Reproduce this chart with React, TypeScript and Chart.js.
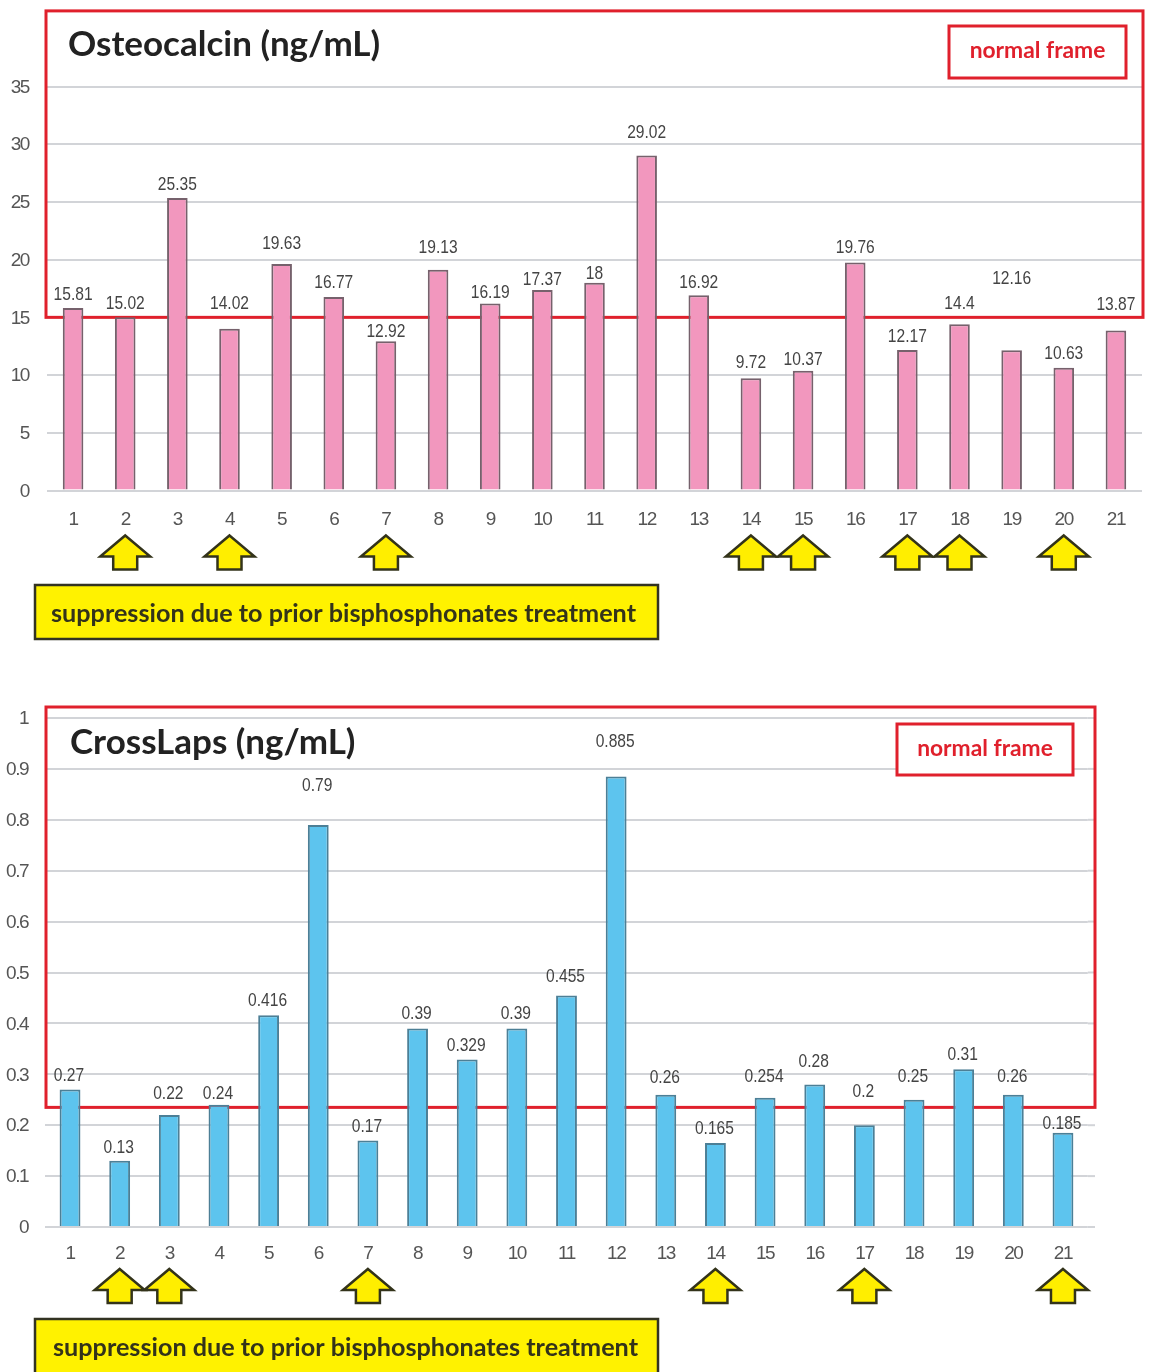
import React, { useEffect, useRef } from "react";
import { Chart, registerables } from "chart.js";

Chart.register(...registerables);

// Subject numbers along both x axes
const subjects = ["1","2","3","4","5","6","7","8","9","10","11","12","13","14","15","16","17","18","19","20","21"];

// Osteocalcin (ng/mL)
const osteocalcin = [15.81,15.02,25.35,14.02,19.63,16.77,12.92,19.13,16.19,17.37,18,29.02,16.92,9.72,10.37,19.76,12.17,14.4,12.16,10.63,13.87];
const osteocalcinNormal = [15, 41.55];
const osteocalcinArrows = [2,4,7,14,15,17,18,20];
// Distance from the bar top to the centre of its value label
const osteocalcinLift = [14,14,14,26,21,15,11,23,12,11,10,24,13,17,12,16,14,22,72,15,27];

// CrossLaps (ng/mL)
const crossLaps = [0.27,0.13,0.22,0.24,0.416,0.79,0.17,0.39,0.329,0.39,0.455,0.885,0.26,0.165,0.254,0.28,0.2,0.25,0.31,0.26,0.185];
const crossLapsNormal = [0.235, 1.0216];
const crossLapsArrows = [2,3,7,14,17,21];
const crossLapsLift = [15,14,22,12,15,40,15,16,15,16,20,36,18,15,22,24,34,24,15,19,10];

const DIGITS = '"Liberation Sans", Arimo, sans-serif';
const SANS = 'Lato, "Open Sans", sans-serif';
const RED = "#e0202c";
const NOTE = "suppression due to prior bisphosphonates treatment";

type Panel = {
  top: number; height: number; plotTop: number; plotBottom: number; plotLeft: number; plotRight: number;
  gridRight: number; frameRight: number;
  title: string; titleX: number; titleY: number;
  values: number[]; lifts: number[]; arrows: number[]; normal: number[];
  max: number; step: number; fill: string; edge: string; barShare: number;
  keyBox: number[]; noteBox: number[]; noteX: number; noteMid: number; arrowTip: number; labelNudge: number;
  tickPad: number; sidePad: number;
};

const panels: Panel[] = [
  {
    top: 0, height: 660, plotTop: 86.5, plotBottom: 490.5, plotLeft: 47, plotRight: 1142, gridRight: 1142, frameRight: 1143,
    title: "Osteocalcin (ng/mL)", titleX: 68, titleY: 45,
    values: osteocalcin, lifts: osteocalcinLift, arrows: osteocalcinArrows, normal: osteocalcinNormal,
    max: 35, step: 5, fill: "#f297be", edge: "#76616c", barShare: 0.395,
    keyBox: [949, 26, 177, 52], noteBox: [35, 585, 623, 54], noteX: 51, noteMid: 28.5, arrowTip: 45, labelNudge: 0,
    tickPad: 18, sidePad: 18,
  },
  {
    top: 660, height: 712, plotTop: 58, plotBottom: 567, plotLeft: 45.2, plotRight: 1087.8, gridRight: 1095, frameRight: 1095,
    title: "CrossLaps (ng/mL)", titleX: 70, titleY: 83,
    values: crossLaps, lifts: crossLapsLift, arrows: crossLapsArrows, normal: crossLapsNormal,
    max: 1, step: 0.1, fill: "#5dc4ee", edge: "#4c7f96", barShare: 0.42,
    keyBox: [897, 64, 176, 51], noteBox: [35, 659, 623, 60], noteX: 53, noteMid: 29, arrowTip: 42, labelNudge: -1,
    tickPad: 15, sidePad: 17,
  },
];

function drawArrow(ctx: CanvasRenderingContext2D, x: number, tip: number) {
  ctx.beginPath();
  ctx.moveTo(x, tip);
  ctx.lineTo(x + 25, tip + 21);
  ctx.lineTo(x + 12, tip + 21);
  ctx.lineTo(x + 12, tip + 34);
  ctx.lineTo(x - 12, tip + 34);
  ctx.lineTo(x - 12, tip + 21);
  ctx.lineTo(x - 25, tip + 21);
  ctx.closePath();
  ctx.fillStyle = "#ffee00";
  ctx.fill();
  ctx.lineWidth = 2.5;
  ctx.lineJoin = "miter";
  ctx.strokeStyle = "#33331a";
  ctx.stroke();
}

function makeChart(canvas: HTMLCanvasElement, p: Panel) {
  const annotations = {
    id: "annotations",
    beforeDraw(chart: any) {
      // Tightens the axis numerals, which are set in a condensed look
      chart.ctx.letterSpacing = "-1.4px";
    },
    beforeDatasetsDraw(chart: any) {
      const { ctx, scales, chartArea } = chart;
      ctx.save();
      // Grid lines run on past the last category
      if (p.gridRight > chartArea.right) {
        ctx.strokeStyle = "#d2d4d8";
        ctx.lineWidth = 2;
        scales.y.ticks.forEach((_: any, i: number) => {
          const y = scales.y.getPixelForTick(i);
          ctx.beginPath();
          ctx.moveTo(chartArea.right, y);
          ctx.lineTo(p.gridRight, y);
          ctx.stroke();
        });
      }
      // Normal-range frame sits above the grid but behind the bars
      const yLow = scales.y.getPixelForValue(p.normal[0]);
      const yHigh = scales.y.getPixelForValue(p.normal[1]);
      ctx.strokeStyle = RED;
      ctx.lineWidth = 3;
      ctx.strokeRect(46, yHigh, p.frameRight - 46, yLow - yHigh);
      ctx.restore();
    },
    afterDatasetsDraw(chart: any) {
      const { ctx, scales } = chart;
      ctx.save();
      ctx.letterSpacing = "0px";
      ctx.font = `19px ${DIGITS}`;
      ctx.fillStyle = "#444444";
      ctx.textAlign = "center";
      ctx.textBaseline = "middle";
      p.values.forEach((v, i) => {
        const x = scales.x.getPixelForValue(i) + p.labelNudge;
        const y = scales.y.getPixelForValue(v) - p.lifts[i] + 1;
        // Value labels are squeezed horizontally to a condensed width
        ctx.save();
        ctx.translate(x, y);
        ctx.scale(0.82, 1);
        ctx.fillText(String(v), 0, 0);
        ctx.restore();
      });
      ctx.restore();
    },
    afterDraw(chart: any) {
      const { ctx, scales } = chart;
      ctx.save();
      ctx.letterSpacing = "0px";
      ctx.textBaseline = "middle";

      ctx.font = `700 35px ${SANS}`;
      ctx.fillStyle = "#222222";
      ctx.textAlign = "left";
      ctx.fillText(p.title, p.titleX, p.titleY);

      const [kx, ky, kw, kh] = p.keyBox;
      ctx.fillStyle = "#ffffff";
      ctx.fillRect(kx, ky, kw, kh);
      ctx.strokeStyle = RED;
      ctx.lineWidth = 3;
      ctx.strokeRect(kx, ky, kw, kh);
      ctx.font = `700 22.8px ${SANS}`;
      ctx.fillStyle = RED;
      ctx.textAlign = "center";
      ctx.fillText("normal frame", kx + kw / 2, ky + kh / 2 - 1);

      p.arrows.forEach((n) => {
        drawArrow(ctx, scales.x.getPixelForValue(n - 1), p.plotBottom + p.arrowTip);
      });

      const [nx, ny, nw, nh] = p.noteBox;
      ctx.fillStyle = "#fff200";
      ctx.fillRect(nx, ny, nw, nh);
      ctx.strokeStyle = "#333322";
      ctx.lineWidth = 2.5;
      ctx.strokeRect(nx, ny, nw, nh);
      ctx.font = `700 25.2px ${SANS}`;
      ctx.fillStyle = "#33331a";
      ctx.textAlign = "left";
      ctx.fillText(NOTE, p.noteX, ny + p.noteMid);
      ctx.restore();
    },
  };

  return new Chart(canvas, {
    type: "bar",
    data: {
      labels: subjects,
      datasets: [{
        data: p.values,
        backgroundColor: p.fill,
        borderColor: p.edge,
        borderWidth: 2,
        borderSkipped: "bottom",
        categoryPercentage: 1,
        barPercentage: p.barShare,
      }],
    },
    options: {
      animation: false,
      responsive: false,
      events: [],
      layout: { padding: { top: p.plotTop, right: 1149 - p.plotRight, left: 0, bottom: 0 } },
      plugins: { legend: { display: false }, tooltip: { enabled: false }, title: { display: false } },
      scales: {
        x: {
          grid: { display: false, drawTicks: false },
          border: { display: false },
          ticks: { color: "#555555", padding: p.tickPad, font: { family: DIGITS, size: 19 }, maxRotation: 0, autoSkip: false },
          afterFit(scale: any) { scale.height = p.height - p.plotBottom; },
        },
        y: {
          min: 0,
          max: p.max,
          grid: { color: "#d2d4d8", lineWidth: 2, drawTicks: false },
          border: { display: false },
          ticks: {
            stepSize: p.step,
            color: "#555555",
            padding: p.sidePad,
            labelOffset: 1,
            font: { family: DIGITS, size: 19 },
            callback: (v: any) => String(Math.round(Number(v) * 10) / 10),
          },
          afterFit(scale: any) { scale.width = p.plotLeft; },
        },
      },
    },
    plugins: [annotations],
  } as any);
}

function PanelChart({ panel }: { panel: Panel }) {
  const ref = useRef<HTMLCanvasElement | null>(null);
  useEffect(() => {
    const chart = makeChart(ref.current!, panel);
    return () => chart.destroy();
  }, [panel]);
  return (
    <canvas
      ref={ref}
      width={1149}
      height={panel.height}
      style={{ position: "absolute", left: 0, top: panel.top, width: 1149, height: panel.height }}
    />
  );
}

export default function App() {
  return (
    <div style={{ position: "absolute", left: 0, top: 0, width: 1149, height: 1372, overflow: "hidden", background: "#fff" }}>
      {panels.map((p) => <PanelChart key={p.title} panel={p} />)}
    </div>
  );
}
